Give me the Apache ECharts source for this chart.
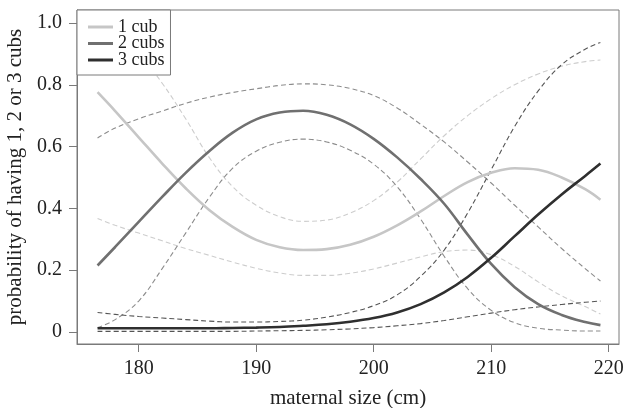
<!DOCTYPE html>
<html>
<head>
<meta charset="utf-8">
<script src="https://cdn.jsdelivr.net/npm/echarts@6/dist/echarts.min.js"></script>
<style>
    html, body { margin: 0; padding: 0; background: #fff; }
    #cubs-chart { width: 626px; height: 408px; }
</style>
</head>
<body>
<div id="cubs-chart"></div>
<script>
// maternal size (cm) where the curves were read
var sizes = [176.5, 178, 180, 182, 184, 186, 188, 190, 192, 194, 196, 198, 200, 202, 204, 206, 208, 210, 212, 214, 216, 218, 219.3];

// fitted probabilities
var oneCub    = [0.776, 0.715, 0.63, 0.545, 0.465, 0.395, 0.34, 0.298, 0.274, 0.265, 0.268, 0.282, 0.308, 0.345, 0.39, 0.44, 0.485, 0.515, 0.53, 0.525, 0.50, 0.462, 0.428];
var twoCubs   = [0.215, 0.275, 0.356, 0.437, 0.515, 0.585, 0.645, 0.688, 0.71, 0.716, 0.703, 0.672, 0.625, 0.565, 0.495, 0.415, 0.315, 0.22, 0.145, 0.09, 0.055, 0.032, 0.022];
var threeCubs = [0.012, 0.012, 0.012, 0.012, 0.012, 0.012, 0.013, 0.014, 0.016, 0.02, 0.025, 0.033, 0.045, 0.063, 0.09, 0.128, 0.178, 0.24, 0.31, 0.38, 0.445, 0.505, 0.545];

// confidence bands (dashed)
var oneCubUpper    = [1.0, 0.965, 0.9, 0.805, 0.69, 0.565, 0.47, 0.41, 0.373, 0.358, 0.362, 0.385, 0.425, 0.485, 0.56, 0.635, 0.70, 0.755, 0.80, 0.835, 0.86, 0.875, 0.88];
var oneCubLower    = [0.367, 0.345, 0.32, 0.295, 0.27, 0.248, 0.226, 0.206, 0.191, 0.183, 0.183, 0.19, 0.204, 0.223, 0.243, 0.26, 0.265, 0.25, 0.212, 0.162, 0.117, 0.082, 0.058];
var twoCubsUpper   = [0.628, 0.66, 0.69, 0.715, 0.74, 0.76, 0.775, 0.787, 0.798, 0.803, 0.80, 0.788, 0.765, 0.725, 0.672, 0.615, 0.55, 0.482, 0.41, 0.34, 0.27, 0.205, 0.165];
var twoCubsLower   = [0.014, 0.04, 0.10, 0.205, 0.32, 0.435, 0.53, 0.585, 0.614, 0.624, 0.615, 0.588, 0.543, 0.47, 0.365, 0.245, 0.14, 0.07, 0.03, 0.012, 0.006, 0.003, 0.003];
var threeCubsUpper = [0.063, 0.057, 0.05, 0.045, 0.04, 0.035, 0.032, 0.032, 0.034, 0.038, 0.048, 0.063, 0.085, 0.12, 0.18, 0.265, 0.385, 0.525, 0.665, 0.78, 0.865, 0.915, 0.937];
var threeCubsLower = [0.002, 0.002, 0.002, 0.002, 0.002, 0.002, 0.002, 0.003, 0.004, 0.005, 0.007, 0.01, 0.014, 0.02, 0.027, 0.037, 0.049, 0.061, 0.072, 0.081, 0.089, 0.096, 0.1];

// tick labels
var xTicks = [180, 190, 200, 210, 220];
var yTicks = [0, 0.2, 0.4, 0.6, 0.8, 1.0];

var serif = '"Liberation Serif", "DejaVu Serif", serif';
var lightGrey = '#c6c6c6', midGrey = '#707070', darkGrey = '#2f2f2f';
var frame = '#7a7a7a';

function pairs(vals) {
    return sizes.map(function (s, i) { return [s, vals[i]]; });
}

function solid(name, vals, color) {
    return {
        name: name,
        type: 'line',
        data: pairs(vals),
        smooth: 0.4,
        showSymbol: false,
        z: 3,
        lineStyle: { color: color, width: 2.6 },
        itemStyle: { color: color }
    };
}

function dashed(name, vals, color) {
    return {
        name: name,
        type: 'line',
        data: pairs(vals),
        smooth: 0.4,
        showSymbol: false,
        z: 2,
        lineStyle: { color: color, width: 1.1, type: [5, 3] },
        itemStyle: { color: color }
    };
}

var myChart = echarts.init(document.getElementById('cubs-chart'));

var option = {
    animation: false,
    backgroundColor: '#fff',
    grid: {
        show: true,
        left: 77, right: 7, top: 10, bottom: 64,
        outerBoundsMode: 'none',
        containLabel: false,
        borderColor: frame,
        borderWidth: 1
    },
    legend: {
        data: ['1 cub', '2 cubs', '3 cubs'],
        orient: 'vertical',
        left: 77, top: 10,
        padding: [8, 6, 6, 11],
        itemGap: -1.5,
        itemWidth: 25,
        itemHeight: 3,
        icon: 'rect',
        backgroundColor: '#fff',
        borderColor: frame,
        borderWidth: 1,
        z: 10,
        textStyle: { fontFamily: serif, fontSize: 18, color: '#222' }
    },
    xAxis: {
        type: 'value',
        min: 174.75, max: 220.88,
        name: 'maternal size (cm)',
        nameLocation: 'middle',
        nameGap: 44,
        nameTextStyle: { fontFamily: serif, fontSize: 21, color: '#222' },
        splitLine: { show: false },
        axisLine: { show: true, onZero: false, lineStyle: { color: frame } },
        axisTick: { show: true, inside: false, length: 8, customValues: xTicks, lineStyle: { color: frame } },
        axisLabel: { margin: 15, customValues: xTicks, fontFamily: serif, fontSize: 20, color: '#222' }
    },
    yAxis: {
        type: 'value',
        min: -0.039, max: 1.042,
        name: 'probability of having 1, 2 or 3 cubs',
        nameLocation: 'middle',
        nameGap: 48,
        nameTextStyle: { fontFamily: serif, fontSize: 21, color: '#222' },
        splitLine: { show: false },
        axisLine: { show: true, onZero: false, lineStyle: { color: frame } },
        axisTick: { show: true, inside: false, length: 8, customValues: yTicks, lineStyle: { color: frame } },
        axisLabel: {
            margin: 15,
            customValues: yTicks,
            fontFamily: serif, fontSize: 20, color: '#222',
            formatter: function (v) { return v === 0 ? '0' : v.toFixed(1); }
        }
    },
    series: [
        dashed('1 cub upper', oneCubUpper, '#cdcdcd'),
        dashed('1 cub lower', oneCubLower, '#cdcdcd'),
        dashed('2 cubs upper', twoCubsUpper, '#8c8c8c'),
        dashed('2 cubs lower', twoCubsLower, '#8c8c8c'),
        dashed('3 cubs upper', threeCubsUpper, '#555'),
        dashed('3 cubs lower', threeCubsLower, '#555'),
        solid('1 cub', oneCub, lightGrey),
        solid('2 cubs', twoCubs, midGrey),
        solid('3 cubs', threeCubs, darkGrey)
    ]
};

myChart.setOption(option);
</script>
</body>
</html>
